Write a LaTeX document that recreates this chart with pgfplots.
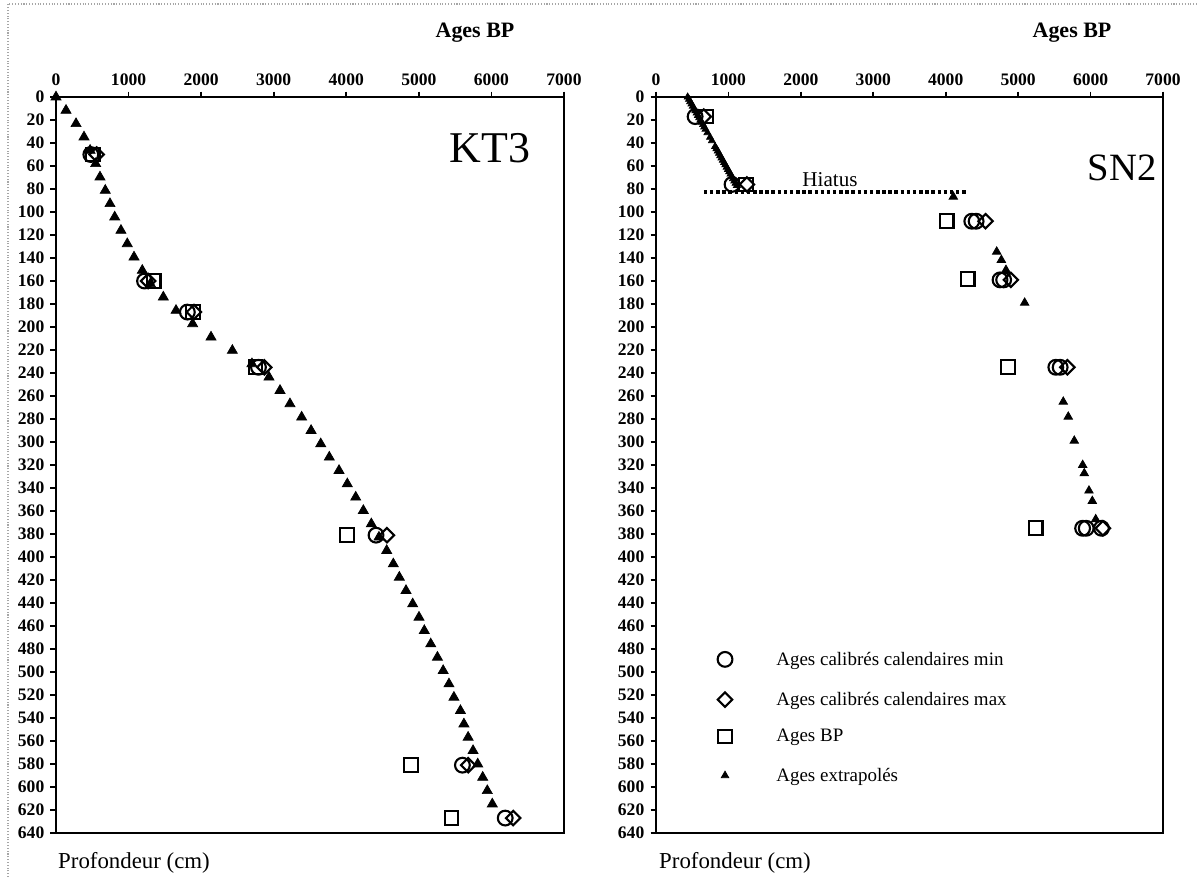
\documentclass[border=0pt]{standalone}
\usepackage{fontspec}
\setmainfont{Liberation Serif}
\usepackage{pgfplots}
\pgfplotsset{compat=1.18}
\pgfplotsset{
  core/.style={
    scale only axis, height=14.72cm,
    xmin=0, xmax=7000, ymin=0, ymax=640, y dir=reverse,
    xtick={0,1000,...,7000}, ytick={0,20,...,640},
    xtick pos=right, xticklabel pos=right, ytick pos=left, yticklabel pos=left,
    tick align=outside, major tick length=0.11cm,
    axis line style={line width=1.3pt},
    tick style={black, line width=1pt},
    /pgf/number format/1000 sep={}, /pgf/number format/assume math mode=true,
    ticklabel style={font=\fontsize{10}{11}\selectfont\bfseries},
    scaled x ticks=false, clip=false,
  },
  circ/.style={only marks, mark=o, mark size=4.2pt, mark options={line width=1.2pt}},
  diam/.style={only marks, mark=square, mark size=2.9pt, mark options={rotate=45, line width=1.2pt}},
  sq/.style={only marks, mark=square, mark size=3.9pt, mark options={line width=1.2pt}},
  tri/.style={only marks, mark=triangle*, mark size=3.3pt, mark options={black}},
}
\begin{document}
\begin{tikzpicture}[x=1cm,y=1cm]
\path[use as bounding box] (0,0) rectangle (23.98,-17.54);
\draw[gray!70, densely dotted, line width=0.6pt] (0.16,-17.54) -- (0.16,-0.08) -- (23.98,-0.08);

% ---------------- KT3 ----------------
\begin{axis}[core, at={(1.12cm,-16.66cm)}, anchor=south west, width=10.16cm]
\addplot[tri] table {
x y
0 0
138 11.6
276 23.2
386 34.8
470 46.4
547 58
606 69.6
679 81.2
744 92.8
809 104.4
895 116
982 127.6
1075 139.2
1189 150.8
1300 162.4
1479 174
1654 185.6
1883 197.2
2136 208.8
2430 220.4
2700 232
2935 243.6
3087 255.2
3224 266.8
3385 278.4
3515 290
3648 301.6
3766 313.2
3900 324.8
4014 336.4
4130 348
4235 359.6
4345 371.2
4450 382.8
4557 394.4
4648 406
4731 417.6
4823 429.2
4915 440.8
5002 452.4
5075 464
5164 475.6
5256 487.2
5335 498.8
5415 510.4
5483 522
5573 533.6
5621 545.2
5679 556.8
5747 568.4
5811 580
5880 591.6
5943 603.2
6012 614.8
};
\addplot[sq] table {
x y
505 50
1345 160
1890 187
2750 235
4010 381
4890 581
5450 627
};
\addplot[circ] table {
x y
480 50
1220 160
1810 187
2790 235
4410 381
5600 581
6190 627
};
\addplot[diam] table {
x y
560 50
1270 160
1900 187
2870 235
4560 381
5680 581
6300 627
};
\end{axis}

% ---------------- SN2 ----------------
\begin{axis}[core, at={(13.12cm,-16.66cm)}, anchor=south west, width=10.14cm]
\addplot[line width=2pt, dash pattern=on 2pt off 1.5pt] coordinates {(660,82.5) (4310,82.5)};
\addplot[only marks, mark=triangle*, mark size=2.3pt] table {
x y
437 0
455 2
472 4
490 6
508 8
525 10
543 12
560 14
578 16
596 18
613 20
631 22
649 24
666 26
684 28
710 31
746 35
772 38
816 43
834 45
852 47
869 49
887 51
904 53
922 55
940 57
957 59
975 61
993 63
1010 65
1028 67
1046 69
1063 71
1081 73
1098 75
1116 77
};
\addplot[circ] table {
x y
540 17
1050 76
4360 108
4420 108
4750 159
4800 159
5520 235
5580 235
5890 375
5940 375
6150 375
};
\addplot[diam] table {
x y
660 17
1255 76
4550 108
4900 159
5680 235
6170 375
};
\addplot[sq] table {
x y
690 17
1240 76
4013 108
4303 158
4864 235
5242 375
};
\addplot[only marks, mark=triangle*, mark size=2.8pt] table {
x y
4105 86.7
4704 134.5
4768 141.7
4832 150.4
5090 178.9
5623 265
5692 278
5775 298.9
5891 320
5913 327.2
5978 342.3
6024 351.3
6071 367.2
};
% legend keys
\addplot[circ] coordinates {(953,489)};
\addplot[diam] coordinates {(953,524)};
\addplot[sq] coordinates {(953,556)};
\addplot[only marks, mark=triangle*, mark size=2.5pt] coordinates {(953,590)};
\begin{scope}[every node/.style={anchor=west, inner sep=0pt, font=\fontsize{10.8}{11}\selectfont}]
\node at (axis cs:1657,490) {Ages calibrés calendaires min};
\node at (axis cs:1657,525) {Ages calibrés calendaires max};
\node at (axis cs:1657,557) {Ages BP};
\node at (axis cs:1657,591) {Ages extrapolés};
\end{scope}
\end{axis}

\node[font=\fontsize{12.5}{13}\selectfont\bfseries] at (9.50,-0.66) {Ages BP};
\node[font=\fontsize{12.5}{13}\selectfont\bfseries] at (21.44,-0.66) {Ages BP};
\node[font=\fontsize{13}{14}\selectfont] at (2.68,-17.26) {Profondeur (cm)};
\node[font=\fontsize{13}{14}\selectfont] at (14.70,-17.26) {Profondeur (cm)};
\node[font=\fontsize{25}{26}\selectfont] at (9.80,-2.96) {KT3};
\node[font=\fontsize{22}{23}\selectfont] at (22.44,-3.36) {SN2};
\node[font=\fontsize{12}{13}\selectfont] at (16.60,-3.60) {Hiatus};
\end{tikzpicture}
\end{document}
